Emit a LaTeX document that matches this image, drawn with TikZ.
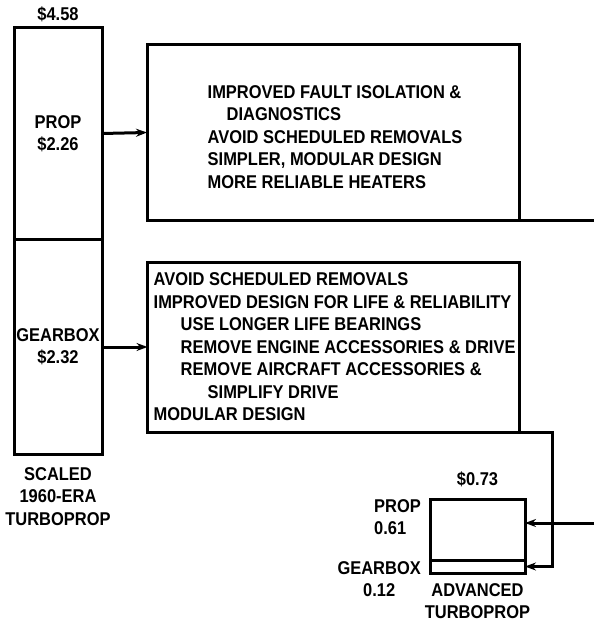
\documentclass[tikz,border=0pt]{standalone}
\usepackage{fontspec}
\newfontfamily\lettering{Liberation Sans Bold}[FakeStretch=0.89]
\usepackage{tikz}
\usetikzlibrary{arrows.meta, positioning}

\begin{document}
\begin{tikzpicture}[
  x=1pt, y=-1pt,
  font=\lettering\fontsize{18.5}{22.5}\selectfont,
  blk/.style={rectangle, draw, line width=3pt, inner sep=0pt, outer sep=0pt},
  note/.style={rectangle, draw, line width=3pt, outer sep=0pt, minimum width=372pt},
  lbl/.style={align=center, inner sep=0pt},
  wire/.style={line width=3pt},
  arr/.style={line width=3pt, -{Stealth[length=11pt, width=8pt]}}
]
\useasboundingbox (0,0) rectangle (594,628);

% old engine, stacked
\node[blk, minimum width=88pt, minimum height=211pt] (prop) at (58,133.5) {};
\node[blk, minimum width=88pt, minimum height=215pt, below=0pt of prop] (gear) {};
\node[lbl] at (prop) {PROP\\\$2.26};
\node[lbl] at (gear) {GEARBOX\\\$2.32};
\node[lbl, above=6pt of prop] (oldcost) {\$4.58};
\node[lbl, below=13pt of gear] (oldname) {SCALED\\1960-ERA\\TURBOPROP};

% improvement boxes
\node[note, minimum height=175pt] (propnote) at (333,132.5) {};
\node[lbl, align=left] at (335,137) {IMPROVED FAULT ISOLATION \&\\
  \hspace{19pt}DIAGNOSTICS\\
  AVOID SCHEDULED REMOVALS\\
  SIMPLER, MODULAR DESIGN\\
  MORE RELIABLE HEATERS};
\node[note, minimum height=170pt] (gearnote) at (333.5,347) {};
\node[lbl, align=left, anchor=west] at ([xshift=6pt]gearnote.west) {AVOID SCHEDULED REMOVALS\\
  IMPROVED DESIGN FOR LIFE \& RELIABILITY\\
  \hspace{27pt}USE LONGER LIFE BEARINGS\\
  \hspace{27pt}REMOVE ENGINE ACCESSORIES \& DRIVE\\
  \hspace{27pt}REMOVE AIRCRAFT ACCESSORIES \&\\
  \hspace{54pt}SIMPLIFY DRIVE\\
  MODULAR DESIGN};

% advanced engine
\node[blk, minimum width=95pt, minimum height=61pt] (advprop) at (477.5,529.5) {};
\node[blk, minimum width=95pt, minimum height=13pt, below=0pt of advprop] (advgear) {};
\node[lbl, above=12pt of advprop] (newcost) {\$0.73};
\node[lbl, align=left, anchor=east] (newprop) at (421,517) {PROP\\0.61};
\node[lbl, anchor=east] (newgear) at (421,579) {GEARBOX\\0.12};
\node[lbl, below=10pt of advgear] (newname) {ADVANCED\\TURBOPROP};

\coordinate (outR) at (594,220);
\coordinate (inR) at (594,523);

\draw[arr] (prop.east) -- (propnote.west);
\draw[arr] (gear.east |- gearnote.west) -- (gearnote.west);
\draw[wire] (propnote.south east) -- (outR);
\draw[arr] (inR) -- (inR -| advprop.east);
\draw[arr] (gearnote.south east) -- ++(33,0) |- (advgear.east);

\end{tikzpicture}
\end{document}
